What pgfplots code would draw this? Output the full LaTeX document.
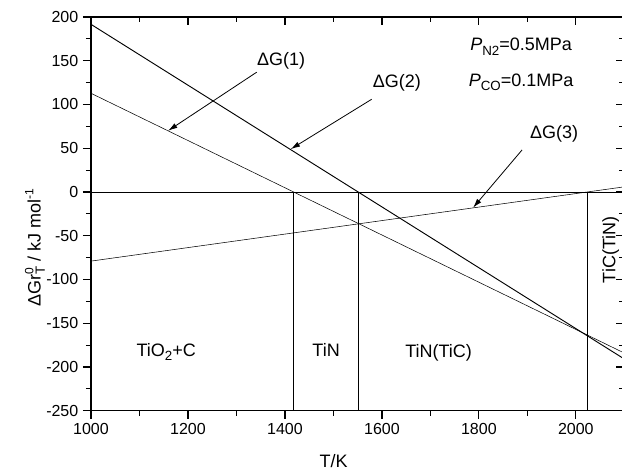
\documentclass[border=0pt]{standalone}
\usepackage{fontspec}
\setmainfont{Liberation Sans}
\usepackage{pgfplots}
\pgfplotsset{compat=1.18}
\usetikzlibrary{arrows.meta}

% small raised / lowered text in the text font
\newcommand\lo[1]{\raisebox{-0.45ex}{\fontsize{10}{12}\selectfont #1}}
\newcommand\hi[1]{\raisebox{0.75ex}{\fontsize{9}{10}\selectfont #1}}
\newcommand\lbl{\fontsize{13.5}{16}\selectfont}

\pgfplotsset{
  frame/.style={
    scale only axis, width=400pt, height=295.3pt,
    xmin=1000, xmax=2100, ymin=-250, ymax=200,
    xtick={1000,1200,...,2000}, ytick={-250,-200,...,200},
    minor x tick num=1, minor y tick num=1,
    major tick length=6pt, minor tick length=3.75pt,
    every tick/.style={black, line width=0.9pt},
    axis line style={line width=1pt},
    scaled ticks=false,
    /pgf/number format/1000 sep={},
    /pgf/number format/assume math mode=true,
    tick label style={font=\fontsize{12}{14}\selectfont},
  },
}

\begin{document}
\begin{tikzpicture}
\begin{axis}[
  frame,
  tick align=outside, tick pos=left,
  xlabel={T/K},
  ylabel={ΔGr\rlap{\hi{0}}\lo{T} / kJ mol\hi{-1}},
  every axis x label/.style={at={(rel axis cs:0.455,-0.127)}, anchor=center, font=\lbl},
  every axis y label/.style={at={(rel axis cs:-0.105,0.415)}, anchor=center, rotate=90, font=\lbl},
  cycle list={{black, line width=0.7pt, solid, no marks}},
]
% Delta G(1), (2), (3)
\addplot coordinates {(1000,112.8) (2100,-184.1)};
\addplot coordinates {(1000,191.6) (2100,-190.9)};
\addplot coordinates {(1000,-79.0) (2100,5.9)};
% zero line and phase boundaries
\addplot coordinates {(1000,0) (2100,0)};
\addplot coordinates {(1418,0) (1418,-250)};
\addplot coordinates {(1551,0) (1551,-250)};
\addplot coordinates {(2023,0) (2023,-250)};

\draw[line width=0.6pt, -{Latex[length=7pt,width=4pt]}] (axis cs:1342,137) -- (axis cs:1159,70);
\draw[line width=0.6pt, -{Latex[length=7pt,width=4pt]}] (axis cs:1579,106) -- (axis cs:1412,49);
\draw[line width=0.6pt, -{Latex[length=7pt,width=4pt]}] (axis cs:1889,48) -- (axis cs:1788,-18);

\node[font=\lbl] at (axis cs:1392,150) {ΔG(1)};
\node[font=\lbl] at (axis cs:1631,125) {ΔG(2)};
\node[font=\lbl] at (axis cs:1955,67) {ΔG(3)};
\node[font=\lbl] at (axis cs:1887,166) {\textit{P}\lo{N2}=0.5MPa};
\node[font=\lbl] at (axis cs:1887,125) {\textit{P}\lo{CO}=0.1MPa};

\node[font=\lbl] at (axis cs:1155,-183) {TiO\lo{2}+C};
\node[font=\lbl] at (axis cs:1485,-181) {TiN};
\node[font=\lbl] at (axis cs:1717,-184) {TiN(TiC)};
\node[font=\lbl, rotate=90] at (axis cs:2072,-66) {TiC(TiN)};

\coordinate (SW) at (rel axis cs:0,0);
\coordinate (NE) at (rel axis cs:1,1);
\end{axis}
\begin{axis}[
  frame,
  tick align=inside, tick pos=right,
  xticklabels={}, yticklabels={},
]
\end{axis}
\pgfresetboundingbox
\path ([shift={(-68.25pt,-44.5pt)}]SW) rectangle ([shift={(-1.75pt,12.75pt)}]NE);
\end{tikzpicture}
\end{document}
